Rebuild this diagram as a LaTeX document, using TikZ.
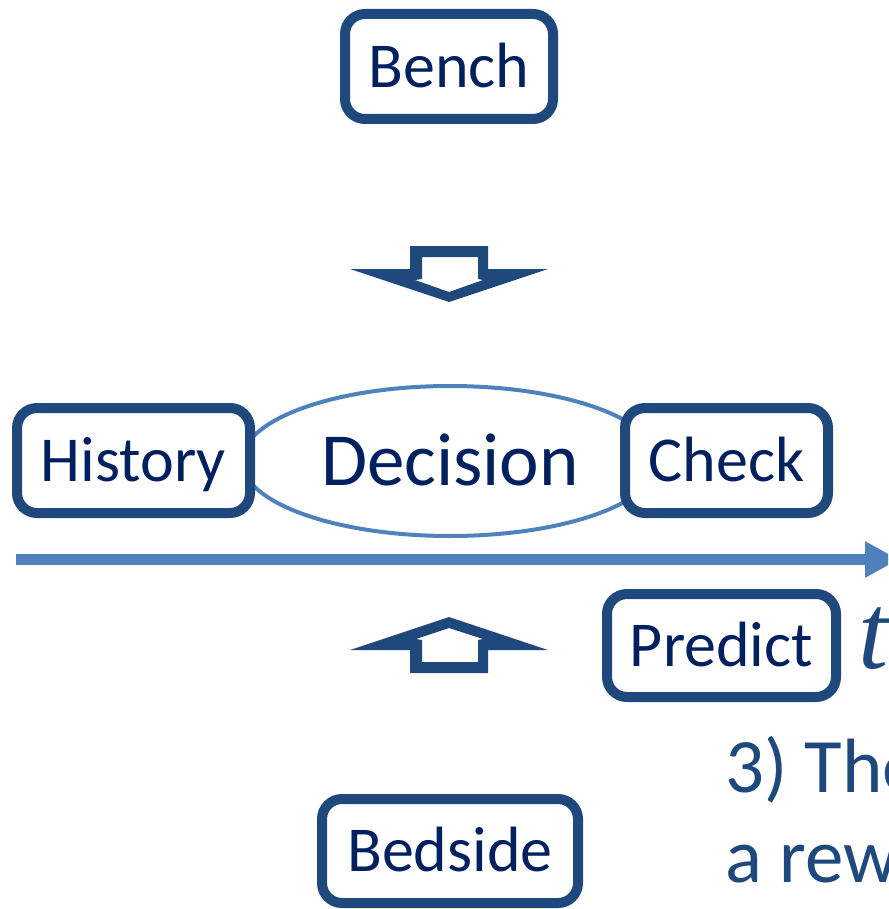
\documentclass[tikz,border=0pt]{standalone}
\usepackage{fontspec}
\setmainfont{Carlito}
\newfontfamily\timeserif{Liberation Serif}
\usetikzlibrary{arrows.meta,shapes.geometric}
\definecolor{boxline}{HTML}{1F497D}
\definecolor{labelink}{HTML}{002060}
\definecolor{accentblue}{HTML}{4F81BD}
\begin{document}
\begin{tikzpicture}[x=1pt,y=-1pt,
  stagebox/.style={rectangle, draw=boxline, line width=10pt, rounded corners=20pt,
    fill=white, inner sep=0pt, text=labelink,
    font=\fontsize{64}{70}\selectfont, text height=41.2pt, text depth=0pt,
    minimum height=105pt},
  hub/.style={ellipse, draw=accentblue, line width=4pt, inner sep=0pt,
    text=labelink, font=\fontsize{75}{80}\selectfont,
    text height=48.3pt, text depth=0pt},
  blockarrow/.style={fill=boxline, even odd rule},
  timeaxis/.style={draw=accentblue, line width=11pt,
    -{Triangle[length=34pt,width=34pt]}},
  note/.style={anchor=base west, inner sep=0pt, text=boxline,
    font=\fontsize{77}{90}\selectfont}]
\useasboundingbox (0,0) rectangle (888,909);
\clip (0,0) rectangle (888,909);

% central decision ellipse, drawn first so the side boxes cover its ends
\node[hub, minimum width=416pt, minimum height=150pt] (decision) at (450,461) {Decision};

% stage boxes
\node[stagebox, minimum width=208pt] (bench) at (449,66.5) {Bench};
\node[stagebox, minimum width=233pt] (history) at (133.5,460.5) {History};
\node[stagebox, minimum width=203pt] (check) at (726.5,460.5) {Check};
\node[stagebox, minimum width=229pt, minimum height=103pt] (predict) at (721.5,645.5) {Predict};
\node[stagebox, minimum width=256pt, minimum height=104pt] (bedside) at (450,851) {Bedside};

% hollow block arrow pointing down from the bench
\coordinate (downcue) at (449,246);
\fill[blockarrow, shift={(downcue)}]
  (-39,0) -- (39,0) -- (39,23) -- (99,23) -- (0,56) -- (-99,23) -- (-39,23) -- cycle
  (-27,11) -- (29,11) -- (29,33) -- (34,34) -- (0,46) -- (-34,34) -- (-27,33) -- cycle;

% hollow block arrow pointing up from the bedside
\coordinate (upcue) at (449,673);
\fill[blockarrow, shift={(upcue)}]
  (-39,0) -- (39,0) -- (39,-23) -- (99,-23) -- (0,-56) -- (-99,-23) -- (-39,-23) -- cycle
  (-27,-11) -- (29,-11) -- (29,-33) -- (34,-34) -- (0,-45) -- (-33,-34) -- (-27,-33) -- cycle;

% time axis
\coordinate (axisstart) at (16,559.5);
\coordinate (axisend) at (899,559.5);
\draw[timeaxis] (axisstart) -- (axisend);
\node[anchor=base west, inner sep=0pt, text=boxline,
  font=\timeserif\itshape\fontsize{108}{110}\selectfont] (timelabel) at (858,668) {t};

% running caption text
\node[note] (noteA) at (725,792) {3) The};
\node[note] (noteB) at (725,882) {a rew};
\end{tikzpicture}
\end{document}
